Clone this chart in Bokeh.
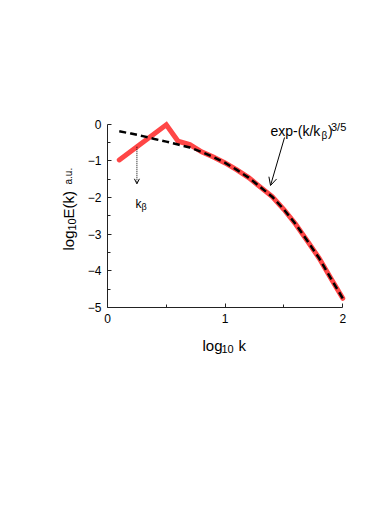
from math import pi
from bokeh.plotting import figure
from bokeh.models import Range1d, FixedTicker, Label, Arrow, OpenHead
from bokeh.embed import file_html
from bokeh.resources import INLINE

# ---- data ----
fit_x = [0.1, 0.2, 0.3, 0.4, 0.5, 0.6, 0.7, 0.8, 0.9, 1.0,
         1.1, 1.2, 1.3, 1.4, 1.5, 1.6, 1.7, 1.8, 1.9, 2.0]
fit_y = [-0.20, -0.26, -0.33, -0.41, -0.48, -0.56, -0.64, -0.76, -0.90, -1.06,
         -1.25, -1.46, -1.72, -1.98, -2.33, -2.73, -3.19, -3.66, -4.21, -4.75]

spec_x = [0.1, 0.5, 0.6, 0.7, 0.8, 0.9, 1.0,
          1.1, 1.2, 1.3, 1.4, 1.5, 1.6, 1.7, 1.8, 1.9, 2.0]
spec_y = [-0.98, -0.02, -0.47, -0.56, -0.76, -0.90, -1.06,
          -1.25, -1.46, -1.72, -1.98, -2.33, -2.73, -3.19, -3.66, -4.21, -4.75]

x_ticks = [0, 1, 2]
x_minor = [0.5, 1.5]
y_ticks = [-5, -4, -3, -2, -1, 0]
y_minor = [-4.5, -3.5, -2.5, -1.5, -0.5]

FONT = "Liberation Sans"
W, H = 362, 514

# a wide frame so that the axis titles (drawn as labels) sit inside it;
# the axes themselves are pinned at x=0 and y=-5
p = figure(width=W, height=H, output_backend="svg", toolbar_location=None,
           x_range=Range1d(-0.5697, 2.117), y_range=Range1d(-6.444, 0.368),
           min_border_left=40, min_border_right=6, min_border_top=110,
           min_border_bottom=154)
p.outline_line_color = None
p.xgrid.visible = False
p.ygrid.visible = False
p.background_fill_color = "white"
p.border_fill_color = "white"

p.xaxis.fixed_location = -5
p.yaxis.fixed_location = 0
for ax, ticks, minor, bounds in ((p.xaxis, x_ticks, x_minor, (0, 2)),
                                 (p.yaxis, y_ticks, y_minor, (-5, 0))):
    ax.ticker = FixedTicker(ticks=ticks, minor_ticks=minor)
    ax.bounds = bounds
    ax.axis_line_color = "#222222"
    ax.axis_line_width = 1
    ax.major_tick_in = 4
    ax.major_tick_out = 0
    ax.minor_tick_in = 3
    ax.minor_tick_out = 0
    ax.major_tick_line_color = "#222222"
    ax.minor_tick_line_color = "#222222"
    ax.major_label_text_font = FONT
    ax.major_label_text_font_size = "12px"
    ax.major_label_text_color = "black"
    ax.major_label_standoff = 6

# curves
p.line(spec_x, spec_y, line_color="#ff4646", line_width=5,
       line_cap="round", line_join="miter")
p.line(fit_x, fit_y, line_color="black", line_width=2.5, line_dash="7 4")

def lab(x, y, text, size, angle=0.0):
    p.add_layout(Label(x=x, y=y, text=text, text_font=FONT,
                       text_font_size=size, text_color="black", angle=angle,
                       text_align="left", text_baseline="alphabetic"))

# x-axis title: log10 k
lab(0.808, -6.035, "log", "15px")
lab(0.969, -6.144, "10", "11px")
lab(1.114, -6.035, "k", "15px")

# y-axis title (rotated): log10E(k)  a.u.
lab(-0.332, -3.447, "log", "15px", pi / 2)
lab(-0.298, -2.902, "10", "11px", pi / 2)
lab(-0.332, -2.575, "E(k)", "15px", pi / 2)
lab(-0.332, -1.649, "a.u.", "10px", pi / 2)

# fit annotation
lab(1.386, -0.204, "exp-(k/k", "14px")
lab(1.82, -0.30, "\u03b2", "10px")
lab(1.875, -0.204, ")", "14px")
lab(1.9, -0.095, "3/5", "11px")
p.add_layout(Arrow(end=OpenHead(size=8, line_width=1, line_color="black"),
                   x_start=1.505, y_start=-0.368, x_end=1.386, y_end=-1.676,
                   line_width=1, line_color="black"))

# k_beta annotation
lab(0.238, -2.174, "k", "12px")
lab(0.289, -2.262, "\u03b2", "9px")
p.add_layout(Arrow(end=OpenHead(size=5, line_width=1, line_color="black"),
                   x_start=0.25, y_start=-0.62, x_end=0.25, y_end=-1.63,
                   line_width=1, line_color="black", line_dash="1 1"))

open("out.html", "w").write(file_html(p, INLINE))
